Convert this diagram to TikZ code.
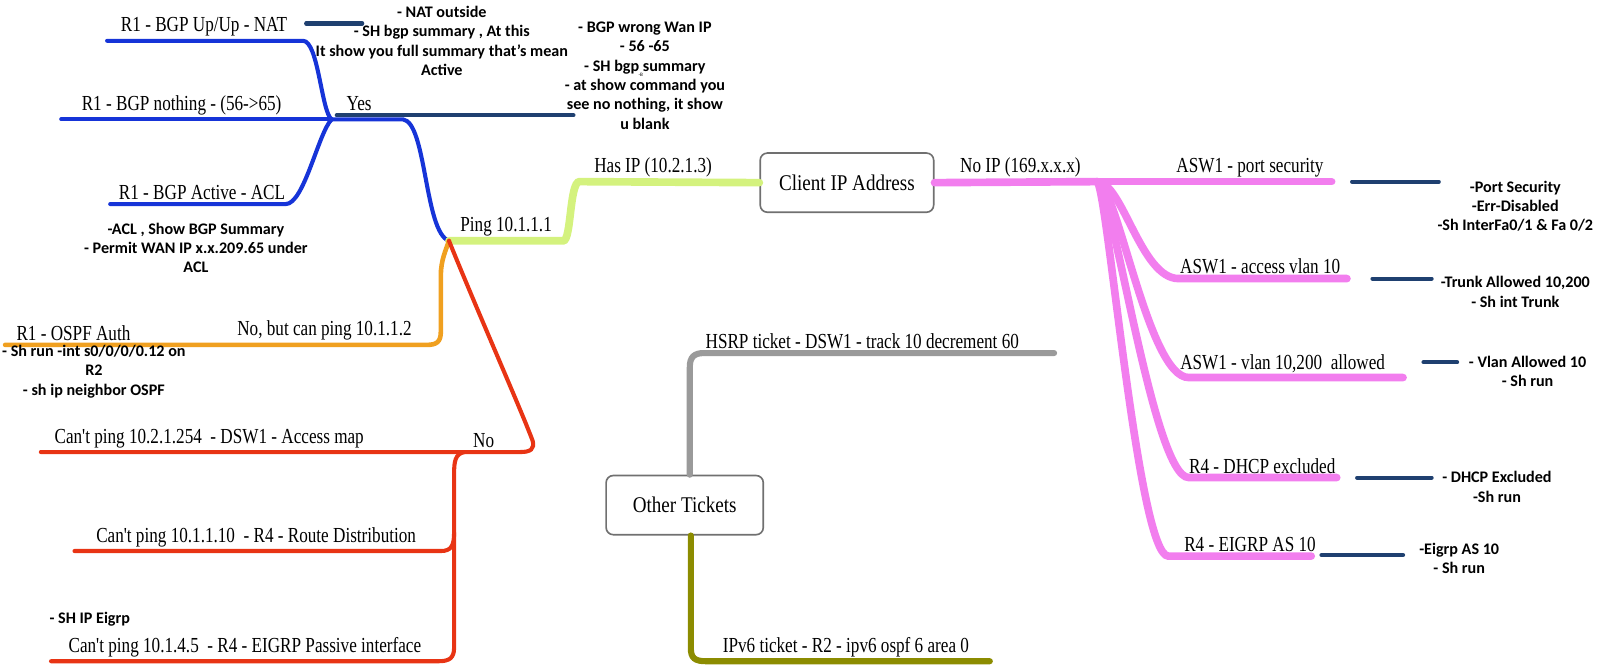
\documentclass[tikz,border=0pt]{standalone}
\usepackage{fontspec}
\newfontfamily\lblfont{Liberation Serif}[FakeStretch=0.80]
\newfontfamily\boxfont{Liberation Serif}[FakeStretch=0.85]
\newfontfamily\notefont{Carlito}
\definecolor{bgpblue}{HTML}{1634D8}
\definecolor{navy}{HTML}{1F4070}
\definecolor{lgreen}{HTML}{D4F27E}
\definecolor{pink}{HTML}{F27EEE}
\definecolor{orng}{HTML}{F0A020}
\definecolor{redl}{HTML}{E83414}
\definecolor{grayl}{HTML}{9A9A9A}
\definecolor{olive}{HTML}{8C8C00}
\definecolor{boxline}{HTML}{707070}
\begin{document}
\begin{tikzpicture}[x=1pt,y=-1pt,
  lbl/.style={font=\lblfont\fontsize{21}{24}\selectfont, inner sep=1pt, anchor=south},
  note/.style={font=\notefont\bfseries\fontsize{15.8}{19}\selectfont, align=center, inner sep=0pt},
  tbox/.style={draw=boxline, rounded corners=7pt, line width=1.6pt, fill=white,
    font=\boxfont\fontsize{22}{25}\selectfont, minimum width=170pt, minimum height=58pt},
  bl/.style={draw=bgpblue, line width=4pt, line cap=round},
  nv/.style={draw=navy, line width=4pt, line cap=round},
  gr/.style={draw=lgreen, line width=7.5pt, line cap=round},
  pk/.style={draw=pink, line width=7.5pt, line cap=round},
  og/.style={draw=orng, line width=4.5pt, line cap=round},
  rd/.style={draw=redl, line width=4pt, line cap=round},
  gy/.style={draw=grayl, line width=6pt, line cap=round},
  ol/.style={draw=olive, line width=6pt, line cap=round}]
\useasboundingbox (0,0) rectangle (1568,652);

% ---------- coordinates ----------
\coordinate (jb) at (325,117);
\coordinate (jp) at (440,236);
\coordinate (jpk) at (1075,178);
\coordinate (jr) at (455,443);

% ---------- boxes ----------
\node[tbox] (cip) at (830,179) {Client IP Address};
\node[tbox, minimum width=154pt] (ot) at (671,495) {Other Tickets};

% ---------- blue (BGP) ----------
\coordinate (natS) at (105,40);
\coordinate (natE) at (297,40);
\draw[bl] (natS) -- (natE) .. controls (312,40) and (315,110) .. (jb);
\coordinate (nothS) at (60,117);
\draw[bl] (nothS) -- (jb);
\coordinate (aclS) at (108,200);
\coordinate (aclE) at (280,200);
\draw[bl] (aclS) -- (aclE) .. controls (298,200) and (312,130) .. (jb);
\coordinate (yb) at (395,117);
\draw[bl] (jb) -- (yb) .. controls (418,120) and (416,228) .. (jp);
\coordinate (yesS) at (330,113);
\coordinate (yesE) at (562,113);
\draw[nv] (yesS) -- (yesE);
\coordinate (natnS) at (300,23);
\coordinate (natnE) at (355,23);
\draw[nv] (natnS) -- (natnE);

\node[lbl] (l-nat) at (200,37) {R1 - BGP Up/Up - NAT};
\node[lbl] (l-noth) at (178,114) {R1 - BGP nothing - (56->65)};
\node[lbl] (l-acl) at (198,197) {R1 - BGP Active - ACL};
\node[lbl] (l-yes) at (352,110) {Yes};
\node[note] (n-nat) at (433,40) {- NAT outside\\- SH bgp summary , At this\\It show you full summary that’s mean\\Active};
\node[note] (n-wan) at (632,74) {- BGP wrong Wan IP\\- 56 -65\\- SH bgp summary\\- at show command you\\see no nothing, it show\\u blank};
\node[font=\notefont\fontsize{5}{5}\selectfont, inner sep=0pt] (n-b) at (628,73) {-B};
\node[note] (n-acl) at (192,243) {-ACL , Show BGP Summary\\- Permit WAN IP x.x.209.65 under\\ACL};

% ---------- green ----------
\draw[gr] (jp) -- (552,236) .. controls (560,236) and (558,178) .. (568,178) -- (cip.west);
\node[lbl] (l-ping) at (496,233) {Ping 10.1.1.1};
\node[lbl] (l-has) at (640,175) {Has IP (10.2.1.3)};

% ---------- pink ----------
\draw[pk] (cip.east) -- (jpk);
\node[lbl] (l-noip) at (1000,175) {No IP (169.x.x.x)};
\coordinate (psE) at (1305,178);
\draw[pk] (jpk) -- (psE);
\coordinate (avS) at (1155,273);
\coordinate (avE) at (1320,273);
\draw[pk] (jpk) .. controls (1100,178) and (1118,273) .. (avS) -- (avE);
\coordinate (vaS) at (1165,370);
\coordinate (vaE) at (1375,370);
\draw[pk] (jpk) .. controls (1095,180) and (1125,370) .. (vaS) -- (vaE);
\coordinate (dhS) at (1165,468);
\coordinate (dhE) at (1310,468);
\draw[pk] (jpk) .. controls (1090,180) and (1130,468) .. (dhS) -- (dhE);
\coordinate (eiS) at (1145,545);
\coordinate (eiE) at (1285,545);
\draw[pk] (jpk) .. controls (1085,180) and (1115,545) .. (eiS) -- (eiE);

\node[lbl] (l-ps) at (1225,175) {ASW1 - port security};
\node[lbl] (l-av) at (1235,270) {ASW1 - access vlan 10};
\node[lbl] (l-va) at (1257,367) {ASW1 - vlan 10,200\ \ allowed};
\node[lbl] (l-dh) at (1237,465) {R4 - DHCP excluded};
\node[lbl] (l-ei) at (1225,542) {R4 - EIGRP AS 10};

\coordinate (s1a) at (1325,178); \coordinate (s1b) at (1410,178);
\coordinate (s2a) at (1345,273); \coordinate (s2b) at (1403,273);
\coordinate (s3a) at (1395,355); \coordinate (s3b) at (1428,355);
\coordinate (s4a) at (1330,468); \coordinate (s4b) at (1403,468);
\coordinate (s5a) at (1295,544); \coordinate (s5b) at (1375,544);
\draw[nv] (s1a) -- (s1b);
\draw[nv] (s2a) -- (s2b);
\draw[nv] (s3a) -- (s3b);
\draw[nv] (s4a) -- (s4b);
\draw[nv] (s5a) -- (s5b);
\node[note] (n-ps) at (1485,202) {-Port Security\\-Err-Disabled\\-Sh InterFa0/1 \& Fa 0/2};
\node[note] (n-av) at (1485,286) {-Trunk Allowed 10,200\\- Sh int Trunk};
\node[note] (n-va) at (1497,364) {- Vlan Allowed 10\\- Sh run};
\node[note] (n-dh) at (1467,477) {- DHCP Excluded\\-Sh run};
\node[note] (n-ei) at (1430,547) {-Eigrp AS 10\\- Sh run};

% ---------- orange ----------
\coordinate (ogE) at (5,338);
\draw[og] (jp) .. controls (437,245) and (432,255) .. (432,270) -- (432,325) .. controls (432,335) and (428,338) .. (418,338) -- (ogE);
\node[lbl] (l-nobut) at (318,335) {No, but can ping 10.1.1.2};
\node[lbl] (l-ospf) at (72,335) {R1 - OSPF Auth};
\node[note] (n-ospf) at (92,364) {- Sh run -int s0/0/0/0.12 on\\R2\\- sh ip neighbor OSPF};

% ---------- red ----------
\coordinate (r1E) at (40,443);
\draw[rd] (jp) .. controls (470,310) and (510,400) .. (522,432) .. controls (524,440) and (520,443) .. (510,443) -- (r1E);
\coordinate (r2E) at (73,540);
\coordinate (r3E) at (50,648);
\draw[rd] (jr) .. controls (446,445) and (445,452) .. (445,465) -- (445,635) .. controls (445,645) and (440,648) .. (430,648) -- (r3E);
\draw[rd] (445,522) .. controls (445,535) and (442,540) .. (432,540) -- (r2E);
\node[lbl] (l-r1) at (205,440) {Can't ping 10.2.1.254\ \ - DSW1 - Access map};
\node[lbl] (l-no) at (474,440) {No};
\node[lbl] (l-r2) at (251,537) {Can't ping 10.1.1.10\ \ - R4 - Route Distribution};
\node[lbl] (l-r3) at (240,645) {Can't ping 10.1.4.5\ \ - R4 - EIGRP Passive interface};
\node[note] (n-r3) at (88,607) {- SH IP Eigrp};

% ---------- gray / olive ----------
\coordinate (gyE) at (1033,346);
\draw[gy] (ot.north -| 676,0) -- (676,360) .. controls (676,350) and (680,346) .. (690,346) -- (gyE);
\node[lbl] (l-hsrp) at (845,343) {HSRP ticket - DSW1 - track 10 decrement 60};
\coordinate (olE) at (970,648);
\draw[ol] (ot.south -| 677,0) -- (677,635) .. controls (677,645) and (681,648) .. (692,648) -- (olE);
\node[lbl] (l-ipv6) at (829,645) {IPv6 ticket - R2 - ipv6 ospf 6 area 0};
\end{tikzpicture}
\end{document}
